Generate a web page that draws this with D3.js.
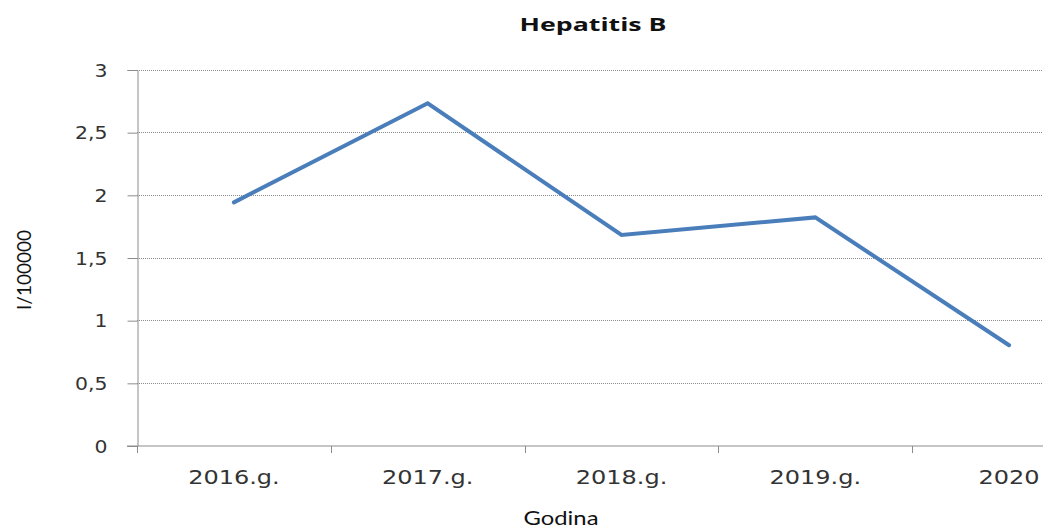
<!DOCTYPE html>
<html>
<head>
<meta charset="utf-8">
<script src="https://cdn.jsdelivr.net/npm/d3@7"></script>
<style>
  body { margin: 0; background: #fff; }
  svg { display: block; overflow: hidden; }
</style>
</head>
<body>
<div id="chart"></div>
<script>
// data
const years = ['2016.g.', '2017.g.', '2018.g.', '2019.g.', '2020'];
const rates = [1.94, 2.73, 1.68, 1.82, 0.80];
const yTicks = [0, 0.5, 1, 1.5, 2, 2.5, 3];

const W = 1043, H = 530;
// plot area (the original is cropped on the right, last band runs past the edge)
const plotLeft = 137, plotRight = 1106, plotTop = 69.5, plotBottom = 445.5;

const svg = d3.select('#chart').append('svg')
    .attr('width', W)
    .attr('height', H);

// scales
const x = d3.scaleBand()
    .domain(years)
    .range([plotLeft, plotRight])
    .padding(0);

const y = d3.scaleLinear()
    .domain([0, 3])
    .range([plotBottom, plotTop]);

// dotted gridlines
svg.append('g')
    .selectAll('line')
    .data(yTicks.filter(d => d > 0))
    .join('line')
    .attr('x1', plotLeft)
    .attr('x2', plotRight)
    .attr('y1', d => Math.round(y(d)) + 0.5)
    .attr('y2', d => Math.round(y(d)) + 0.5)
    .attr('stroke', '#8c8c8c')
    .attr('stroke-width', 1)
    .attr('stroke-dasharray', '1,1');

// y axis
const yAxis = d3.axisLeft(y)
    .tickValues(yTicks)
    .tickSize(10)
    .tickPadding(0)
    .tickFormat(d => String(d).replace('.', ','));

const yg = svg.append('g')
    .attr('transform', 'translate(' + (plotLeft + 0.5) + ',0.5)')
    .call(yAxis);
yg.select('.domain').attr('stroke', '#8c8c8c');
yg.selectAll('.tick line').attr('stroke', '#8c8c8c');
yg.selectAll('.tick text')
    .attr('x', -25)
    .attr('dy', '0.36em')
    .attr('transform', 'scale(1.2,1)')
    .attr('font-family', 'DejaVu Sans')
    .attr('font-size', 17)
    .attr('fill', '#333');

// x axis: labels centred in bands, tick marks on band edges
const xg = svg.append('g')
    .attr('transform', 'translate(0,' + (plotBottom + 0.5) + ')');

xg.append('line')
    .attr('x1', plotLeft - 10)
    .attr('x2', plotRight)
    .attr('stroke', '#8c8c8c');

xg.selectAll('.xtick')
    .data(years)
    .join('line')
    .attr('class', 'xtick')
    .attr('x1', d => Math.round(x(d)) + 0.5)
    .attr('x2', d => Math.round(x(d)) + 0.5)
    .attr('y1', 0)
    .attr('y2', 7)
    .attr('stroke', '#8c8c8c');

xg.selectAll('.xlabel')
    .data(years)
    .join('text')
    .attr('class', 'xlabel')
    .attr('transform', d => 'translate(' + (x(d) + x.bandwidth() / 2) + ',38) scale(1.2,1)')
    .attr('text-anchor', 'middle')
    .attr('font-family', 'DejaVu Sans')
    .attr('font-size', 20)
    .attr('fill', '#333')
    .text(d => d);

// line
const line = d3.line()
    .x((d, i) => x(years[i]) + x.bandwidth() / 2)
    .y(d => y(d));

svg.append('path')
    .datum(rates)
    .attr('d', line)
    .attr('fill', 'none')
    .attr('stroke', '#4a7ebb')
    .attr('stroke-width', 4)
    .attr('stroke-linecap', 'round');

// titles
svg.append('text')
    .attr('x', 593)
    .attr('y', 31)
    .attr('text-anchor', 'middle')
    .attr('font-family', 'Open Sans, sans-serif')
    .attr('font-weight', 'bold')
    .attr('font-size', 18)
    .attr('textLength', 147)
    .attr('lengthAdjust', 'spacingAndGlyphs')
    .attr('fill', '#111')
    .text('Hepatitis B');

svg.append('text')
    .attr('x', 561)
    .attr('y', 525)
    .attr('text-anchor', 'middle')
    .attr('font-family', 'Lato, sans-serif')
    .attr('font-size', 19)
    .attr('textLength', 75)
    .attr('lengthAdjust', 'spacingAndGlyphs')
    .attr('fill', '#111')
    .text('Godina');

svg.append('text')
    .attr('transform', 'translate(31,270) rotate(-90)')
    .attr('text-anchor', 'middle')
    .attr('font-family', 'Lato, sans-serif')
    .attr('font-size', 20)
    .attr('textLength', 80)
    .attr('lengthAdjust', 'spacingAndGlyphs')
    .attr('fill', '#111')
    .text('I/100000');
</script>
</body>
</html>
